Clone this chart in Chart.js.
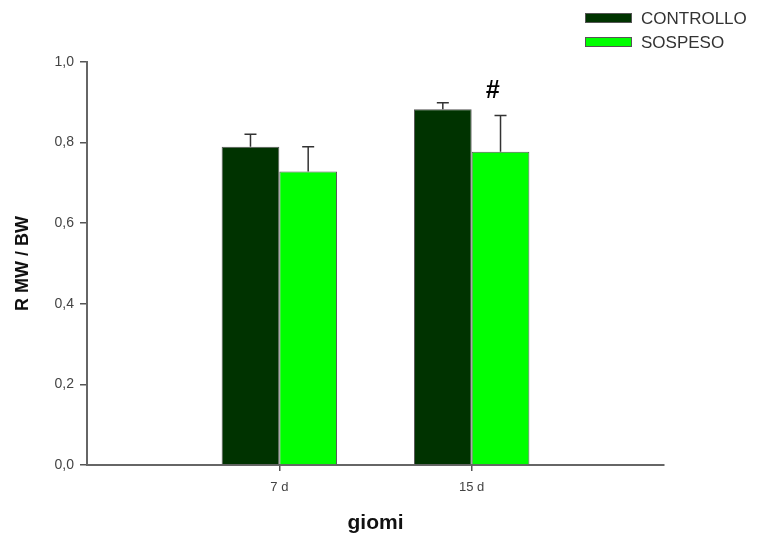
<!DOCTYPE html>
<html>
<head>
<meta charset="utf-8">
<script src="https://cdn.jsdelivr.net/npm/chart.js@4.4.1/dist/chart.umd.min.js"></script>
<style>
  html, body { margin: 0; padding: 0; background: #ffffff; }
  #wrap { width: 762px; height: 538px; }
</style>
</head>
<body>
<div id="wrap"><canvas id="c" width="762" height="538"></canvas></div>
<script>
// Rapporto peso muscolo / peso corporeo, media ± errore
const categories = ['7 d', '15 d'];
const seriesNames = ['CONTROLLO', 'SOSPESO'];
const controlloValues = [0.790, 0.883];
const controlloErrors = [0.031, 0.016];
const sospesoValues = [0.728, 0.777];
const sospesoErrors = [0.062, 0.090];
const yTicks = [0, 0.2, 0.4, 0.6, 0.8, 1.0];
const significance = ['', '#'];   // marcatore sopra il gruppo SOSPESO

const FONT = "'Liberation Sans', Arial, Helvetica, sans-serif";
const colors = ['#003300', '#00ff00'];

const toPoints = vals => vals.map((v, i) => ({ x: i + 1, y: v }));

// Barre d'errore (solo verso l'alto) e marcatore di significatività
const errorBars = {
  id: 'errorBars',
  afterDatasetsDraw(chart) {
    const ctx = chart.ctx;
    const y = chart.scales.y;
    ctx.save();
    ctx.strokeStyle = '#333333';
    ctx.lineWidth = 1.5;
    chart.data.datasets.forEach((ds, di) => {
      const meta = chart.getDatasetMeta(di);
      meta.data.forEach((bar, i) => {
        const top = y.getPixelForValue(ds.data[i].y);
        const end = y.getPixelForValue(ds.data[i].y + ds.errors[i]);
        ctx.beginPath();
        ctx.moveTo(bar.x, top);
        ctx.lineTo(bar.x, end);
        ctx.moveTo(bar.x - 6, end);
        ctx.lineTo(bar.x + 6, end);
        ctx.stroke();
        if (ds.marks && ds.marks[i]) {
          ctx.fillStyle = '#000000';
          ctx.font = 'italic bold 25px ' + FONT;
          ctx.textAlign = 'center';
          ctx.textBaseline = 'middle';
          ctx.fillText(ds.marks[i], bar.x - 8, end - 24);
        }
      });
    });
    ctx.restore();
  }
};

// Legenda in alto a destra, voci in colonna
const boxLegend = {
  id: 'boxLegend',
  afterDraw(chart) {
    const ctx = chart.ctx;
    const x0 = chart.width - 177;
    ctx.save();
    chart.data.datasets.forEach((ds, i) => {
      const cy = 18 + i * 24;
      ctx.fillStyle = ds.backgroundColor;
      ctx.fillRect(x0, cy - 5, 47, 10);
      ctx.strokeStyle = '#555555';
      ctx.lineWidth = 1;
      ctx.strokeRect(x0 + 0.5, cy - 4.5, 46, 9);
      ctx.fillStyle = '#333333';
      ctx.font = '17px ' + FONT;
      ctx.textAlign = 'left';
      ctx.textBaseline = 'middle';
      ctx.fillText(ds.label, x0 + 56, cy + 1);
    });
    ctx.restore();
  }
};

new Chart(document.getElementById('c'), {
  type: 'bar',
  data: {
    datasets: [
      {
        label: seriesNames[0],
        data: toPoints(controlloValues),
        errors: controlloErrors,
        backgroundColor: colors[0],
        borderColor: '#555555',
        borderWidth: 1
      },
      {
        label: seriesNames[1],
        data: toPoints(sospesoValues),
        errors: sospesoErrors,
        marks: significance,
        backgroundColor: colors[1],
        borderColor: '#555555',
        borderWidth: 1
      }
    ]
  },
  options: {
    responsive: false,
    animation: false,
    devicePixelRatio: 1,
    layout: { padding: { top: 62, right: 98, left: 0, bottom: 0 } },
    datasets: { bar: { categoryPercentage: 0.6, barPercentage: 1.0, grouped: true } },
    plugins: { legend: { display: false }, tooltip: { enabled: false } },
    scales: {
      x: {
        type: 'linear',
        offset: false,
        min: 0,
        max: categories.length + 1,
        afterBuildTicks(scale) {
          scale.ticks = categories.map((_, i) => ({ value: i + 1 }));
        },
        afterFit(scale) { scale.height = 73; },
        ticks: {
          callback: v => categories[v - 1] ?? '',
          font: { family: FONT, size: 13 },
          color: '#444444',
          padding: 9,
          maxRotation: 0
        },
        grid: { offset: false, drawOnChartArea: false, drawTicks: true, tickLength: 6, color: '#555555', lineWidth: 1.5 },
        border: { display: true, color: '#666666', width: 2 },
        title: {
          display: true,
          text: 'giomi',
          font: { family: FONT, size: 21, weight: 'bold' },
          color: '#111111',
          padding: { top: 0, bottom: 2 }
        }
      },
      y: {
        min: 0,
        max: 1,
        afterBuildTicks(scale) {
          scale.ticks = yTicks.map(v => ({ value: v }));
        },
        afterFit(scale) { scale.width = 87; },
        ticks: {
          callback: v => v.toFixed(1).replace('.', ','),
          font: { family: FONT, size: 14 },
          color: '#444444',
          padding: 6
        },
        grid: { drawOnChartArea: false, drawTicks: true, tickLength: 7, color: '#555555', lineWidth: 1.5 },
        border: { display: true, color: '#666666', width: 2 },
        title: {
          display: true,
          text: 'R MW / BW',
          font: { family: FONT, size: 18, weight: 'bold' },
          color: '#111111',
          padding: { top: 12, bottom: 0 }
        }
      }
    }
  },
  plugins: [errorBars, boxLegend]
});
</script>
</body>
</html>
